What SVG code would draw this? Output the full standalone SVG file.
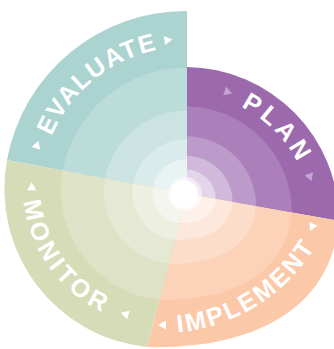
<svg xmlns="http://www.w3.org/2000/svg" width="334" height="349" viewBox="0 0 334 349">
<style>
.lbl{font-family:"Liberation Sans",Arial,sans-serif;font-weight:bold;font-size:25px;fill:#fff}
.tri{fill:#fff}
</style>
<defs>
  <path id="s-ev" d="M187,194 L187,11 A182,182 0 0 0 7,160 Z"/>
  <path id="s-pl" d="M187,194 L187,67 A154,154 0 0 1 339,221 Z"/>
  <path id="s-im" d="M187,194 L339,221 L338,222 C333,300 265,350 147,347 Z"/>
  <path id="s-mo" d="M187,194 L147,347 A159,159 0 0 1 7,160 Z"/>
  <polygon id="tri" points="4.5,0 -3.5,-4.5 -3.5,4.5"/>
  <path id="t-ev" d="M40.6,180.3 A146,146 0 0 1 198.7,47.6"/>
  <path id="t-pl" d="M163,96 A127,127 0 0 1 312,221"/>
  <path id="t-im" d="M130.9,330.3 A179,179 0 0 0 334.9,200.3"/>
  <path id="t-mo" d="M27.8,149.8 A140,140 0 0 0 150.8,325.5"/>
</defs>

<g id="evaluate">
  <use href="#s-ev" fill="#abd3d0"/>
  <use href="#s-ev" fill="#bcdcda" transform="translate(187 194) scale(.69) translate(-187 -194)"/>
  <use href="#s-ev" fill="#cbe4e2" transform="translate(187 194) scale(.455) translate(-187 -194)"/>
  <use href="#s-ev" fill="#d9ebea" transform="translate(187 194) scale(.3) translate(-187 -194)"/>
  <use href="#s-ev" fill="#e8f3f2" transform="translate(187 194) scale(.19) translate(-187 -194)"/>
  <text class="lbl" letter-spacing="1.5"><textPath href="#t-ev" startOffset="51%" text-anchor="middle">EVALUATE</textPath></text>
  <use href="#tri" class="tri" transform="translate(37 145) rotate(288)"/>
  <use href="#tri" class="tri" transform="translate(168 40) rotate(353)"/>
</g>

<g id="plan">
  <use href="#s-pl" fill="#9c69ad"/>
  <use href="#s-pl" fill="#ab7fba" transform="translate(187 194) scale(.69) translate(-187 -194)"/>
  <use href="#s-pl" fill="#bc9ac9" transform="translate(187 194) scale(.455) translate(-187 -194)"/>
  <use href="#s-pl" fill="#d0b9da" transform="translate(187 194) scale(.3) translate(-187 -194)"/>
  <use href="#s-pl" fill="#e4d6ea" transform="translate(187 194) scale(.19) translate(-187 -194)"/>
  <text class="lbl" letter-spacing="4"><textPath href="#t-pl" startOffset="55%" text-anchor="middle">PLAN</textPath></text>
  <use href="#tri" fill="#fff" fill-opacity=".4" transform="translate(228 92) rotate(18)"/>
  <use href="#tri" fill="#fff" fill-opacity=".4" transform="translate(310 177) rotate(71)"/>
</g>

<g id="implement">
  <use href="#s-im" fill="#fbc8a8"/>
  <use href="#s-im" fill="#fcd3b9" transform="translate(187 194) scale(.69) translate(-187 -194)"/>
  <use href="#s-im" fill="#fcddc9" transform="translate(187 194) scale(.455) translate(-187 -194)"/>
  <use href="#s-im" fill="#fde7da" transform="translate(187 194) scale(.3) translate(-187 -194)"/>
  <use href="#s-im" fill="#fef1ea" transform="translate(187 194) scale(.19) translate(-187 -194)"/>
  <text class="lbl" letter-spacing="2.5"><textPath href="#t-im" startOffset="49.6%" text-anchor="middle">IMPLEMENT</textPath></text>
  <use href="#tri" class="tri" transform="translate(162.5 325) rotate(180)"/>
  <use href="#tri" class="tri" transform="translate(312 227) rotate(116)"/>
</g>

<g id="monitor">
  <use href="#s-mo" fill="#d6dcb8"/>
  <use href="#s-mo" fill="#dee2c6" transform="translate(187 194) scale(.69) translate(-187 -194)"/>
  <use href="#s-mo" fill="#e5e8d3" transform="translate(187 194) scale(.455) translate(-187 -194)"/>
  <use href="#s-mo" fill="#edefe1" transform="translate(187 194) scale(.3) translate(-187 -194)"/>
  <use href="#s-mo" fill="#f4f5ee" transform="translate(187 194) scale(.19) translate(-187 -194)"/>
  <text class="lbl" letter-spacing="4"><textPath href="#t-mo" startOffset="51%" text-anchor="middle">MONITOR</textPath></text>
  <use href="#tri" class="tri" transform="translate(31.7 186.7) rotate(270)"/>
  <use href="#tri" class="tri" transform="translate(125 314) rotate(196)"/>
</g>

<g id="hub">
  <circle cx="185" cy="194" r="17" fill="#fff" fill-opacity=".5"/>
  <circle cx="184" cy="194" r="14" fill="#fff"/>
</g>
</svg>
